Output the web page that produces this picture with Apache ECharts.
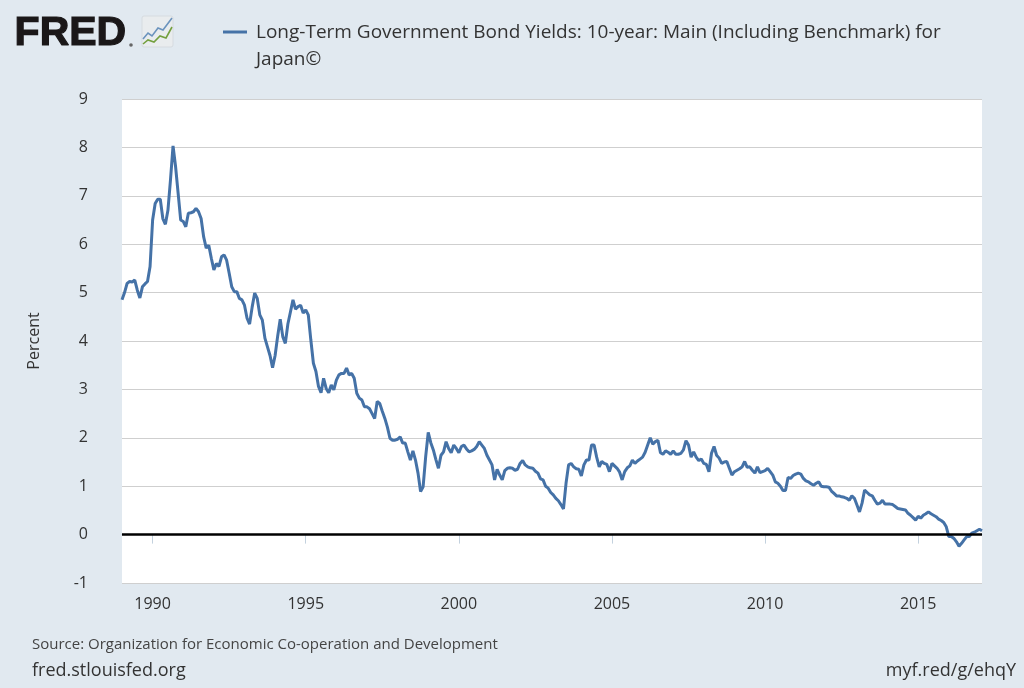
<!DOCTYPE html>
<html>
<head>
<meta charset="utf-8">
<script src="https://cdn.jsdelivr.net/npm/echarts@6/dist/echarts.min.js"></script>
<style>
html,body{margin:0;padding:0;background:#e1e9f0;}
#chart{width:1024px;height:688px;}
</style>
</head>
<body>
<div id="chart"></div>
<script>
// Monthly data, starting January 1989
const startYear = 1989;
const yields = [
  4.85, 5.0, 5.19, 5.23, 5.22, 5.26, 5.05, 4.89, 5.12, 5.18, 5.23, 5.54,
  6.5, 6.84, 6.93, 6.93, 6.53, 6.41, 6.7, 7.33, 8.03, 7.6, 7.05, 6.5,
  6.47, 6.36, 6.64, 6.65, 6.67, 6.74, 6.67, 6.53, 6.15, 5.92, 5.98, 5.71,
  5.47, 5.6, 5.54, 5.74, 5.78, 5.67, 5.4, 5.12, 5.02, 5.02, 4.88, 4.85,
  4.74, 4.47, 4.35, 4.7, 4.99, 4.88, 4.54, 4.43, 4.06, 3.88, 3.7, 3.45,
  3.7, 4.1, 4.45, 4.09, 3.95, 4.35, 4.6, 4.85, 4.66, 4.71, 4.74, 4.58,
  4.64, 4.54, 4.02, 3.54, 3.37, 3.06, 2.93, 3.23, 3.02, 2.93, 3.09, 2.99,
  3.19, 3.3, 3.33, 3.33, 3.44, 3.3, 3.33, 3.23, 2.92, 2.82, 2.78, 2.64,
  2.64, 2.6, 2.5, 2.4, 2.75, 2.71, 2.55, 2.4, 2.22, 1.99, 1.95, 1.95,
  1.97, 2.02, 1.89, 1.89, 1.71, 1.54, 1.73, 1.54, 1.27, 0.89, 0.99, 1.61,
  2.11, 1.9, 1.75, 1.55, 1.37, 1.64, 1.71, 1.92, 1.78, 1.69, 1.85, 1.78,
  1.69, 1.82, 1.85, 1.77, 1.71, 1.73, 1.76, 1.82, 1.92, 1.85, 1.78, 1.64,
  1.54, 1.44, 1.13, 1.35, 1.23, 1.13, 1.32, 1.37, 1.38, 1.37, 1.33, 1.35,
  1.47, 1.53, 1.44, 1.4, 1.38, 1.37, 1.31, 1.27, 1.15, 1.13, 1.0, 0.96,
  0.87, 0.82, 0.75, 0.7, 0.62, 0.53, 1.06, 1.44, 1.47, 1.4, 1.36, 1.35,
  1.21, 1.44, 1.54, 1.54, 1.85, 1.85, 1.6, 1.4, 1.51, 1.47, 1.45, 1.3,
  1.47, 1.42, 1.37, 1.29, 1.13, 1.3, 1.38, 1.42, 1.54, 1.47, 1.52, 1.56,
  1.6, 1.7, 1.85, 2.0, 1.87, 1.92, 1.95, 1.69, 1.66, 1.73, 1.7, 1.66,
  1.73, 1.66, 1.66, 1.68, 1.75, 1.94, 1.85, 1.6, 1.71, 1.6, 1.53, 1.56,
  1.47, 1.45, 1.3, 1.68, 1.82, 1.64, 1.58, 1.47, 1.5, 1.51, 1.37, 1.23,
  1.3, 1.33, 1.36, 1.4, 1.51, 1.39, 1.4, 1.33, 1.27, 1.4, 1.28, 1.3,
  1.32, 1.37, 1.3, 1.23, 1.09, 1.06, 1.0, 0.91, 0.91, 1.18, 1.16, 1.22,
  1.25, 1.27, 1.25, 1.16, 1.11, 1.09, 1.05, 1.02, 1.06, 1.09, 1.0, 0.99,
  0.99, 0.98, 0.9, 0.85, 0.8, 0.8, 0.78, 0.77, 0.75, 0.71, 0.8, 0.75,
  0.61, 0.47, 0.65, 0.92, 0.87, 0.82, 0.8, 0.71, 0.63, 0.65, 0.71, 0.63,
  0.63, 0.63, 0.62, 0.58, 0.54, 0.53, 0.52, 0.51, 0.44, 0.4, 0.35, 0.3,
  0.38, 0.34, 0.4, 0.43, 0.47, 0.43, 0.4, 0.37, 0.32, 0.29, 0.25, 0.16,
  -0.04, -0.04, -0.08, -0.15, -0.24, -0.18, -0.11, -0.04, -0.04, 0.03, 0.05, 0.08,
  0.11, 0.08
];
const xTickYears = [1990, 1995, 2000, 2005, 2010, 2015];
const yTicks = { min: -1, max: 9, step: 1 };
const seriesName = 'Long-Term Government Bond Yields: 10-year: Main (Including Benchmark) for';
const seriesName2 = 'Japan\u00A9';
const sourceText = 'Source: Organization for Economic Co-operation and Development';

const points = yields.map((v, i) => [startYear + i / 12, v]);
const endX = startYear + (yields.length - 1) / 12;

const FONT = '"Open Sans", "Liberation Sans", sans-serif';
const chart = echarts.init(document.getElementById('chart'), null, { renderer: 'canvas' });

chart.setOption({
  backgroundColor: '#e1e9f0',
  animation: false,
  textStyle: { fontFamily: FONT },
  grid: {
    left: 122, right: 42, top: 99, bottom: 105,
    show: true, backgroundColor: '#ffffff', borderWidth: 0
  },
  xAxis: {
    type: 'value',
    min: startYear,
    max: endX,
    axisLine: { show: true, lineStyle: { color: '#c3d1de', width: 1 } },
    axisTick: { show: true, customValues: xTickYears, length: 9, lineStyle: { color: '#c3d1de' } },
    axisLabel: {
      customValues: xTickYears, color: '#333333', fontSize: 16, margin: 13, fontFamily: FONT,
      formatter: v => String(Math.round(v))
    },
    splitLine: { show: false }
  },
  yAxis: {
    type: 'value',
    min: yTicks.min, max: yTicks.max, interval: yTicks.step,
    name: 'Percent',
    nameLocation: 'middle',
    nameGap: 80,
    nameTextStyle: { color: '#333333', fontSize: 16, fontFamily: FONT },
    axisLine: { show: false },
    axisTick: { show: false },
    axisLabel: { color: '#333333', fontSize: 16, margin: 34, fontFamily: FONT },
    splitLine: { show: true, lineStyle: { color: '#cfcfcf', width: 1 } }
  },
  series: [{
    type: 'line',
    name: seriesName,
    data: points,
    showSymbol: false,
    lineStyle: { color: '#4572a7', width: 3 },
    itemStyle: { color: '#4572a7' },
    markLine: {
      silent: true,
      symbol: 'none',
      label: { show: false },
      lineStyle: { color: '#000000', width: 2.5, type: 'solid' },
      data: [{ yAxis: 0 }]
    },
    z: 3
  }],
  graphic: [
    { type: 'text', left: 14, top: 13,
      style: { text: 'FRED', font: 'bold 41px "Liberation Sans", sans-serif', fill: '#1a1718',
               stroke: '#1a1718', lineWidth: 1.2 } },
    { type: 'circle', shape: { cx: 131, cy: 45, r: 1.8 }, style: { fill: '#666' } },
    { type: 'rect', shape: { x: 142, y: 16, width: 31, height: 31, r: 2 },
      style: { fill: '#e9ecee', stroke: '#d6dbe0', lineWidth: 1 } },
    { type: 'polyline', shape: { points: [[143, 39], [148, 33], [152, 36], [158, 28], [163, 30], [172, 18]] },
      style: { stroke: '#6b93bd', lineWidth: 1.6, fill: null } },
    { type: 'polyline', shape: { points: [[143, 44], [148, 40], [154, 42], [160, 36], [166, 38], [172, 27]] },
      style: { stroke: '#74a03f', lineWidth: 1.6, fill: null } },
    { type: 'line', shape: { x1: 223, y1: 32, x2: 247, y2: 32 },
      style: { stroke: '#4572a7', lineWidth: 3 } },
    { type: 'text', left: 256, top: 23,
      style: { text: seriesName, font: '19px ' + FONT, fill: '#333333' } },
    { type: 'text', left: 256, top: 50,
      style: { text: seriesName2, font: '19px ' + FONT, fill: '#333333' } },
    { type: 'text', left: 32, top: 637,
      style: { text: sourceText, font: '15px ' + FONT, fill: '#444444' } },
    { type: 'text', left: 32, top: 662,
      style: { text: 'fred.stlouisfed.org', font: '18px ' + FONT, fill: '#333333' } },
    { type: 'text', right: 8, top: 662,
      style: { text: 'myf.red/g/ehqY', font: '18px ' + FONT, fill: '#333333' } }
  ]
});
</script>
</body>
</html>
